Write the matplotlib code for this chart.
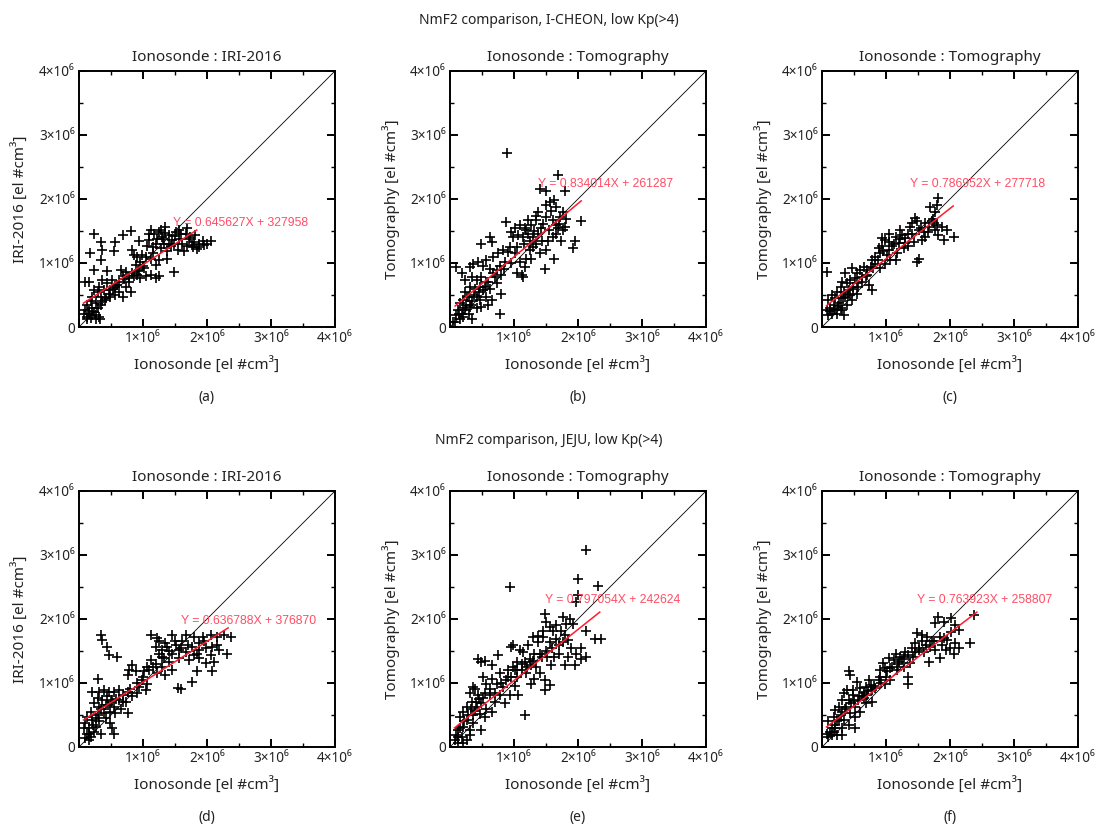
import matplotlib
matplotlib.use("Agg")
import matplotlib.pyplot as plt
import numpy as np
from matplotlib.ticker import MultipleLocator

plt.rcParams['font.family'] = ['Noto Sans', 'DejaVu Sans']

SCALE = 1e6  # values below are in units of 10^6 el/cm^3

# ---------------- data (units of 1e6) ----------------
a_x = [0.23,0.34,0.17,0.36,0.35,0.56,0.68,0.81,0.54,0.94,0.23,0.44,0.10,1.48,2.06,
       1.12,1.17,1.25,1.30,1.35,1.41,1.46,1.51,1.56,1.61,1.67,1.74,1.80,1.85,1.93,1.82,
       1.20,1.28,1.38,1.43,1.54,1.64,1.69,1.77,1.33,1.09,1.07,1.15,1.25,1.20,1.38,1.12,
       1.04,0.99,0.83,0.86,0.91,0.96,0.89,0.94,0.91,0.96,0.83,0.78,0.73,0.65,0.68,0.63,
       0.73,0.81,0.57,0.52,0.49,0.44,0.39,0.36,0.31,0.29,0.34,0.42,0.49,0.57,0.63,0.68,
       0.23,0.21,0.16,0.18,0.26,0.13,0.10,0.16,0.21,0.26,0.13,0.18,0.31,0.23,0.08,0.34,
       0.29,0.36,1.20,1.12,1.02,1.35,1.69,1.48,1.56,1.88,1.95,2.00,1.25,1.04,
       0.15,0.20,0.12,0.27,0.33,0.40,0.47,0.53,0.60,0.70,0.78,0.86,0.92,1.00,1.15,1.22,
       1.32,1.40,1.50,1.60,1.72,1.78,1.87,1.10,1.28]
a_y = [1.45,1.33,1.16,1.20,1.05,1.33,1.44,1.50,1.18,1.35,0.89,0.87,0.71,0.86,1.34,
       1.52,1.46,1.49,1.41,1.47,1.44,1.36,1.49,1.38,1.30,1.46,1.41,1.33,1.22,1.35,1.44,
       1.30,1.23,1.18,1.26,1.20,1.18,1.26,1.28,1.30,1.36,1.26,1.15,1.05,0.97,1.07,1.07,
       1.10,1.13,1.20,1.13,1.10,1.02,0.97,0.89,0.81,0.76,0.84,0.76,0.86,0.89,0.79,0.71,
       0.63,0.55,0.63,0.73,0.58,0.68,0.58,0.73,0.63,0.55,0.47,0.45,0.47,0.50,0.55,0.47,
       0.58,0.47,0.71,0.40,0.37,0.34,0.27,0.21,0.29,0.19,0.16,0.14,0.16,0.24,0.21,0.34,
       0.29,0.40,0.76,0.81,0.92,1.57,1.55,1.30,1.52,1.25,1.28,1.30,0.79,0.79,
       0.25,0.18,0.12,0.13,0.12,0.42,0.52,0.60,0.66,0.75,0.70,0.80,0.88,0.95,1.25,1.38,
       1.38,1.30,1.42,1.45,1.38,1.25,1.30,1.45,1.52]

b_x = [0.89,1.69,1.40,1.50,1.79,2.05,1.95,1.92,1.56,1.63,1.66,1.58,1.50,1.37,1.76,1.82,
       1.79,1.71,1.61,1.50,1.45,1.35,1.27,1.22,1.17,1.09,1.01,0.96,0.88,0.99,1.06,1.14,
       1.22,1.30,1.37,1.43,1.35,1.30,1.53,1.61,1.66,1.74,1.50,1.40,1.63,1.48,1.25,1.19,
       1.27,1.17,1.12,1.14,1.04,1.09,1.01,0.93,0.91,0.83,0.75,0.67,0.62,0.65,0.49,0.86,
       0.78,0.73,0.80,0.67,0.62,0.57,0.52,0.44,0.36,0.31,0.18,0.10,0.23,0.34,0.42,0.49,
       0.57,0.62,0.52,0.47,0.39,0.31,0.23,0.29,0.21,0.34,0.42,0.47,0.57,0.65,0.60,0.49,
       0.42,0.16,0.13,0.18,0.23,0.10,0.16,0.08,0.21,0.29,0.34,0.78,0.31,0.80,0.73,0.05,
       1.35,1.19,1.69,1.76,
       0.20,0.25,0.14,0.38,0.45,0.55,0.60,0.70,0.85,0.95,1.05,1.15,1.25,1.32,1.42,1.55,
       1.65,1.72,0.33,0.26]
b_y = [2.72,2.37,2.16,2.13,2.13,1.65,1.35,1.24,1.95,1.98,1.87,1.82,1.90,1.80,1.80,1.69,
       1.56,1.61,1.67,1.72,1.61,1.67,1.59,1.67,1.54,1.59,1.54,1.48,1.64,1.41,1.43,1.41,
       1.46,1.41,1.46,1.35,1.30,1.25,1.35,1.41,1.46,1.35,1.20,1.15,1.07,0.91,1.20,1.07,
       1.07,0.94,0.81,0.78,0.84,1.02,1.15,1.25,1.17,1.20,1.15,1.09,1.41,1.33,1.30,1.02,
       0.96,0.89,0.81,0.84,0.91,1.04,0.96,1.02,0.99,0.94,0.84,0.94,0.73,0.78,0.73,0.78,
       0.70,0.60,0.58,0.63,0.60,0.63,0.55,0.47,0.42,0.40,0.47,0.42,0.47,0.42,0.34,0.32,
       0.29,0.37,0.26,0.21,0.26,0.19,0.13,0.08,0.16,0.21,0.13,0.21,0.32,0.52,0.68,0.08,
       1.74,1.51,1.54,1.51,
       0.30,0.35,0.20,0.50,0.55,0.62,0.70,0.78,0.90,1.00,1.25,1.30,1.35,1.50,1.55,1.52,
       1.60,1.72,0.35,0.47]

c_x = [1.82,1.80,1.69,1.77,2.06,1.95,1.88,1.80,1.72,1.67,1.61,1.56,1.51,1.46,1.48,1.41,
       1.51,1.48,1.43,1.35,1.30,1.25,1.20,1.28,1.35,1.15,1.09,1.04,0.99,0.94,0.89,0.91,
       1.02,1.07,0.99,1.17,1.15,0.91,0.83,0.83,0.78,0.76,0.70,0.68,0.60,0.55,0.52,0.44,
       0.36,0.39,0.63,0.73,0.78,0.57,0.49,0.31,0.29,0.23,0.34,0.42,0.21,0.29,0.36,0.44,
       0.16,0.10,0.18,0.26,0.13,0.08,0.21,0.29,0.16,0.10,0.23,0.34,0.08,1.04,1.38,1.59,
       1.22,0.94,0.47,0.65,0.31,0.39,0.47,0.55,1.82,1.90,1.74,1.61,1.77,
       0.18,0.25,0.12,0.33,0.40,0.48,0.55,0.62,0.70,0.80,0.88,0.96,1.05,1.12,1.22,1.30,
       1.40,1.55,1.65,1.75]
c_y = [2.01,1.91,1.88,1.80,1.41,1.52,1.57,1.59,1.65,1.57,1.41,1.36,1.52,1.70,1.65,1.62,
       1.07,1.02,1.33,1.46,1.39,1.44,1.31,1.23,1.26,1.41,1.26,1.33,1.36,1.26,1.23,1.15,
       1.13,1.05,0.99,1.15,1.05,0.92,0.99,1.10,1.05,0.94,0.89,0.79,0.89,0.84,0.76,0.73,
       0.84,0.68,0.71,0.66,0.58,0.63,0.60,0.71,0.63,0.55,0.55,0.58,0.45,0.45,0.47,0.50,
       0.50,0.42,0.34,0.37,0.29,0.27,0.27,0.29,0.21,0.19,0.21,0.19,0.86,1.46,1.57,1.49,
       1.52,1.39,0.92,0.94,0.27,0.34,0.42,0.52,1.43,1.36,1.69,1.62,1.51,
       0.28,0.33,0.25,0.45,0.52,0.62,0.68,0.78,0.82,0.92,1.05,1.18,1.20,1.30,1.38,1.32,
       1.45,1.55,1.48,1.62]

d_x = [0.34,0.36,0.44,0.47,0.60,0.29,0.83,1.12,1.22,1.46,1.67,1.80,1.93,2.06,2.16,2.27,
       2.37,2.32,1.35,1.51,1.61,1.77,1.88,1.98,2.08,2.19,2.06,2.11,1.98,1.88,1.80,1.72,
       1.56,1.46,1.41,1.33,1.30,1.25,1.12,1.15,1.22,1.35,1.46,1.54,1.77,2.08,1.85,1.07,
       1.02,0.99,0.89,0.78,0.76,0.94,1.07,1.04,0.91,0.83,0.76,0.68,0.73,0.63,0.55,0.47,
       0.39,0.31,0.21,0.63,0.52,0.44,0.36,0.29,0.23,0.31,0.42,0.55,0.65,0.76,0.57,0.49,
       0.39,0.29,0.18,0.13,0.21,0.31,0.42,0.49,0.52,0.55,0.34,0.10,0.16,0.08,0.13,0.18,
       0.10,0.16,0.23,0.26,1.38,1.56,1.67,1.88,1.20,1.30,1.59,
       0.15,0.22,0.27,0.35,0.45,0.50,0.58,0.68,0.80,0.90,1.00,1.10,1.20,1.30,1.40,1.50,
       1.60,1.70,1.85,1.95,2.15,1.25]
d_y = [1.75,1.67,1.57,1.44,1.41,1.07,1.28,1.75,1.70,1.75,1.75,1.72,1.72,1.75,1.72,1.75,
       1.72,1.46,1.62,1.59,1.65,1.57,1.62,1.54,1.57,1.51,1.43,1.33,1.31,1.385,1.44,1.36,
       1.385,1.46,1.33,1.385,1.255,1.46,1.36,1.255,1.15,1.125,1.20,0.92,1.02,1.18,1.18,1.255,
       1.18,1.05,1.18,1.20,1.125,0.94,0.99,0.89,0.84,0.79,0.86,0.81,0.71,0.73,0.86,0.86,
       0.89,0.86,0.86,0.89,0.73,0.79,0.73,0.76,0.68,0.63,0.66,0.63,0.60,0.53,0.53,0.55,
       0.53,0.50,0.55,0.47,0.42,0.40,0.45,0.37,0.29,0.21,0.21,0.37,0.29,0.29,0.21,0.16,
       0.135,0.11,0.24,0.32,1.57,1.51,1.49,1.51,1.57,1.51,0.91,
       0.20,0.35,0.45,0.60,0.65,0.70,0.75,0.70,0.90,1.00,1.10,1.20,1.30,1.40,1.50,1.65,
       1.55,1.60,1.45,1.65,1.60,1.65]

e_x = [2.12,2.00,0.93,2.32,2.00,1.97,1.48,1.76,1.87,1.92,2.13,2.26,2.36,2.05,2.13,1.95,
       1.79,1.50,1.56,1.61,1.66,1.74,1.82,1.45,1.37,1.30,1.37,1.45,1.56,1.66,1.76,1.84,
       1.89,1.97,2.05,1.84,1.71,1.63,1.58,1.50,1.43,1.32,1.25,1.17,1.27,1.35,1.40,1.48,
       1.48,1.56,1.32,1.27,1.19,1.12,1.09,0.96,0.99,1.14,1.04,0.99,0.91,0.78,0.75,0.65,
       0.54,0.44,0.49,0.65,0.52,0.39,0.36,0.57,0.73,0.83,0.91,1.04,1.06,0.93,1.01,0.78,
       0.70,0.62,0.52,0.44,0.31,0.34,0.26,0.42,0.49,0.57,0.65,0.54,0.47,0.36,0.21,0.16,
       0.26,0.36,0.49,0.31,0.21,0.13,0.10,0.18,0.26,0.08,0.13,0.21,0.31,1.17,0.39,0.86,
       1.01,1.22,
       0.15,0.22,0.28,0.33,0.40,0.46,0.55,0.62,0.70,0.80,0.88,0.95,1.05,1.12,1.20,1.30,
       1.40,1.52,1.60,1.70,1.80,0.12]
e_y = [3.08,2.62,2.50,2.51,2.37,2.26,2.08,2.03,2.00,1.92,1.82,1.69,1.69,1.54,1.41,1.28,
       1.28,1.95,1.87,1.82,1.90,1.82,1.92,1.82,1.74,1.72,1.64,1.72,1.64,1.69,1.64,1.67,
       1.54,1.46,1.38,1.40,1.46,1.40,1.28,1.50,1.41,1.46,1.38,1.33,1.28,1.25,1.15,1.04,
       0.89,0.97,1.07,0.99,1.15,1.20,1.51,1.56,1.59,1.48,1.33,1.25,1.20,1.15,1.43,1.28,
       1.35,1.38,1.33,1.07,1.09,0.91,0.94,0.99,0.99,0.94,1.09,1.09,0.81,0.81,0.96,0.81,
       0.71,0.81,0.76,0.81,0.84,0.71,0.63,0.63,0.68,0.60,0.55,0.47,0.52,0.50,0.55,0.47,
       0.42,0.37,0.26,0.26,0.32,0.26,0.19,0.16,0.11,0.11,0.06,0.06,0.19,0.50,0.57,0.68,
       1.20,1.59,
       0.30,0.40,0.50,0.60,0.70,0.75,0.85,0.90,0.85,1.00,1.05,1.10,1.20,1.30,1.25,1.35,
       1.45,1.40,1.55,1.60,1.75,0.15]

f_x = [2.37,1.82,1.90,2.01,2.08,2.14,2.01,2.32,2.14,2.06,1.93,1.85,1.95,1.85,1.77,1.64,
       1.72,1.77,1.48,1.56,1.46,1.51,1.59,1.67,1.41,1.35,1.30,1.22,1.15,1.12,1.04,0.96,
       0.91,1.02,1.07,1.17,1.28,1.38,1.35,1.35,1.07,0.99,0.89,0.83,0.76,0.70,0.63,0.73,
       0.55,0.42,0.44,0.60,0.49,0.39,0.34,0.49,0.57,0.68,0.78,0.52,0.42,0.31,0.26,0.36,
       0.44,0.52,0.60,0.29,0.21,0.18,0.10,0.23,0.34,0.42,0.52,0.31,0.21,0.13,0.08,0.16,
       0.23,0.31,0.10,0.18,0.65,0.78,0.91,1.20,1.46,1.69,1.88,2.08,1.56,1.28,0.99,0.68,
       0.15,0.20,0.27,0.32,0.38,0.45,0.50,0.58,0.65,0.72,0.82,0.92,1.00,1.10,1.18,1.25,
       1.42,1.52,1.62,1.75,1.90,2.00]
f_y = [2.06,2.03,1.96,2.01,1.91,1.83,1.80,1.62,1.54,1.46,1.52,1.385,1.67,1.72,1.93,1.72,
       1.65,1.52,1.78,1.65,1.62,1.52,1.49,1.33,1.54,1.44,1.49,1.41,1.46,1.36,1.385,1.31,
       1.20,1.18,1.23,1.20,1.255,1.31,1.10,0.99,1.05,0.99,1.05,0.92,0.97,0.81,0.79,1.05,
       1.02,1.18,1.125,0.92,0.89,0.89,0.84,0.81,0.73,0.68,0.71,0.63,0.73,0.73,0.63,0.60,
       0.53,0.47,0.55,0.50,0.58,0.47,0.40,0.40,0.42,0.34,0.29,0.29,0.29,0.24,0.21,0.19,
       0.19,0.19,0.16,0.24,0.76,0.89,1.10,1.33,1.49,1.57,1.59,1.62,1.75,1.41,1.23,0.94,
       0.30,0.35,0.42,0.55,0.62,0.68,0.72,0.80,0.85,0.88,0.95,1.00,1.10,1.25,1.30,1.38,
       1.40,1.55,1.60,1.65,1.70,1.55]

# regression lines: slope, intercept, x-range (units 1e6 for x-range)
fit_slope = [0.645627, 0.834014, 0.786952, 0.636788, 0.797054, 0.763923]
fit_icpt = [327958, 261287, 277718, 376870, 242624, 258807]
fit_xmin = [0.07, 0.08, 0.07, 0.07, 0.07, 0.07]
fit_xmax = [1.84, 2.05, 2.05, 2.33, 2.34, 2.42]
fit_label_x = [1.47, 1.37, 1.37, 1.60, 1.49, 1.48]
fit_label_y = [1.58, 2.18, 2.18, 1.92, 2.25, 2.25]
fit_labels = ["Y = 0.645627X + 327958", "Y = 0.834014X + 261287",
              "Y = 0.786952X + 277718", "Y = 0.636788X + 376870",
              "Y = 0.797054X + 242624", "Y = 0.763923X + 258807"]

panel_titles = ["Ionosonde : IRI-2016", "Ionosonde : Tomography", "Ionosonde : Tomography",
                "Ionosonde : IRI-2016", "Ionosonde : Tomography", "Ionosonde : Tomography"]
y_labels = ["IRI-2016 [el #cm³]", "Tomography [el #cm³]", "Tomography [el #cm³]",
            "IRI-2016 [el #cm³]", "Tomography [el #cm³]", "Tomography [el #cm³]"]
x_label = "Ionosonde [el #cm³]"
panel_tags = ["(a)", "(b)", "(c)", "(d)", "(e)", "(f)"]
row_titles = ["NmF2 comparison, I-CHEON, low Kp(>4)", "NmF2 comparison, JEJU, low Kp(>4)"]
tick_vals = [0, 1, 2, 3, 4]
y_tick_labels = ["0", "1×10⁶", "2×10⁶", "3×10⁶", "4×10⁶"]
x_tick_labels = ["", "1×10⁶", "2×10⁶", "3×10⁶", "4×10⁶"]

xs = [a_x, b_x, c_x, d_x, e_x, f_x]
ys = [a_y, b_y, c_y, d_y, e_y, f_y]

# ---------------- figure ----------------
W, H = 1098, 831
fig = plt.figure(figsize=(W / 100, H / 100), dpi=100)

lefts = [79, 450, 822]
bottoms = [327, 747]
size = 256

for i in range(6):
    r, c = divmod(i, 3)
    l = lefts[c]
    b = bottoms[r]
    ax = fig.add_axes([l / W, 1 - b / H, size / W, size / H])
    ax.set_xlim(0, 4e6)
    ax.set_ylim(0, 4e6)
    ax.plot([0, 4e6], [0, 4e6], color='black', lw=0.6, zorder=1)
    ax.plot(np.array(xs[i]) * SCALE, np.array(ys[i]) * SCALE, linestyle='none',
            marker='+', ms=7, mew=1.2, color='black', zorder=2)
    fx = np.array([fit_xmin[i], fit_xmax[i]]) * SCALE
    ax.plot(fx, fit_slope[i] * fx + fit_icpt[i], color='#ff1a2e', lw=1.1, zorder=3)
    ax.text(fit_label_x[i] * SCALE, fit_label_y[i] * SCALE, fit_labels[i],
            color='#ff4d64', fontsize=8.8, family='Liberation Sans', zorder=4)
    ax.set_xticks([v * SCALE for v in tick_vals])
    ax.set_yticks([v * SCALE for v in tick_vals])
    ax.set_xticklabels(x_tick_labels)
    ax.set_yticklabels(y_tick_labels)
    ax.xaxis.set_minor_locator(MultipleLocator(0.5e6))
    ax.yaxis.set_minor_locator(MultipleLocator(0.5e6))
    ax.tick_params(which='major', direction='in', length=6, width=1.4,
                   top=True, right=True, labelsize=9.8, pad=3, colors='black',
                   labelcolor='#222222')
    ax.tick_params(which='minor', direction='in', length=3, width=1.0,
                   top=True, right=True)
    for s in ax.spines.values():
        s.set_linewidth(1.4)
    ax.set_title(panel_titles[i], fontsize=11, pad=7, color='#222222')
    ax.set_xlabel(x_label, fontsize=11, labelpad=8, color='#222222')
    ax.set_ylabel(y_labels[i], fontsize=11, labelpad=7, color='#222222')
    ax.text(0.5, -0.275, panel_tags[i], transform=ax.transAxes, ha='center',
            va='center', fontsize=10, color='#222222')

fig.text(549 / W, 1 - 20 / H, row_titles[0], ha='center', va='center',
         fontsize=10, color='#222222')
fig.text(549 / W, 1 - 440 / H, row_titles[1], ha='center', va='center',
         fontsize=10, color='#222222')

fig.savefig("out.png", dpi=100)
